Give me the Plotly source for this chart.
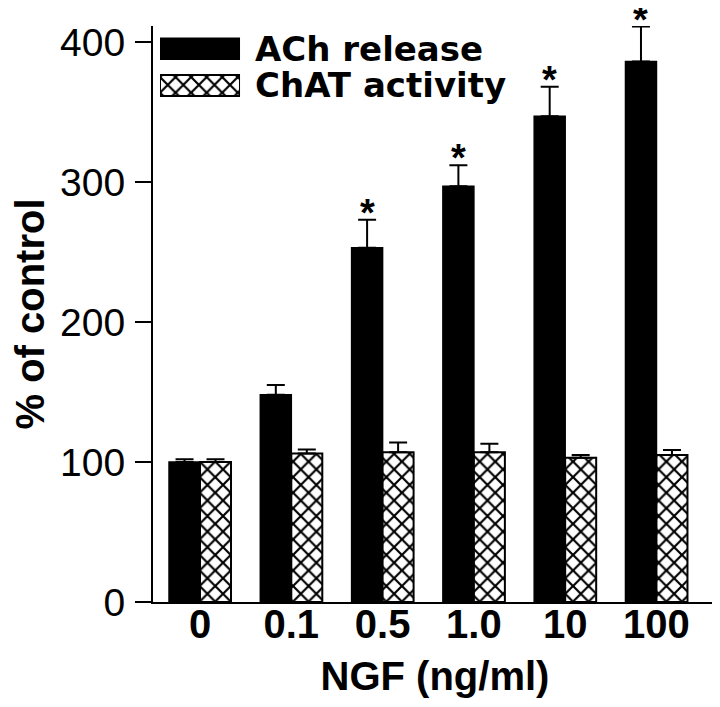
import plotly.graph_objects as go

categories = ["0", "0.1", "0.5", "1.0", "10", "100"]
ach_release = [100, 148, 253, 297, 347, 386]
ach_err = [2, 7, 20, 15, 21, 25]
chat_activity = [100, 106, 107, 107, 103, 105]
chat_err = [2, 3, 7, 6, 2, 3.5]
significance = ["", "", "*", "*", "*", "*"]
series_names = ["ACh release", "ChAT activity"]
y_ticks = [0, 100, 200, 300, 400]

ARIAL = "Liberation Sans, Arial, sans-serif"
HATCH = dict(shape="x", fgcolor="black", bgcolor="white",
             size=11, solidity=0.36, fillmode="replace")

fig = go.Figure()

fig.add_trace(go.Bar(
    x=categories, y=ach_release, name=series_names[0],
    marker=dict(color="black", line=dict(color="black", width=1.5)),
    error_y=dict(type="data", symmetric=False, array=ach_err,
                 arrayminus=[0] * len(ach_err), color="black",
                 thickness=2, width=9),
    showlegend=False,
))
fig.add_trace(go.Bar(
    x=categories, y=chat_activity, name=series_names[1],
    marker=dict(color="white", line=dict(color="black", width=2),
                pattern=HATCH),
    error_y=dict(type="data", symmetric=False, array=chat_err,
                 arrayminus=[0] * len(chat_err), color="black",
                 thickness=2, width=9),
    showlegend=False,
))

# legend swatches drawn as a small horizontal bar inset
fig.add_trace(go.Bar(
    y=[series_names[0]], x=[1], orientation="h", xaxis="x2", yaxis="y2",
    width=0.572, offsetgroup="leg",
    marker=dict(color="black", line=dict(color="black", width=1.5)),
    showlegend=False, hoverinfo="skip",
))
fig.add_trace(go.Bar(
    y=[series_names[1]], x=[1], orientation="h", xaxis="x2", yaxis="y2",
    width=0.572, offsetgroup="leg",
    marker=dict(color="white", line=dict(color="black", width=2), pattern=HATCH),
    showlegend=False, hoverinfo="skip",
))

# significance stars above the ACh bars
for i, (v, e, s) in enumerate(zip(ach_release, ach_err, significance)):
    if s:
        fig.add_annotation(x=i, y=v + e, text=s, showarrow=False,
                           xref="x", yref="y", yanchor="middle",
                           xshift=-15.5, yshift=7,
                           font=dict(family=ARIAL, size=38, color="black", weight="bold"))

# page body has an 8px margin, so the figure is 8px smaller and offset
fig.update_layout(
    width=712, height=699,
    margin=dict(l=145, r=3, t=18, b=105),
    paper_bgcolor="white", plot_bgcolor="white",
    barmode="group", bargap=0.321, bargroupgap=0,
    font=dict(family=ARIAL, color="black"),
    xaxis=dict(
        range=[-0.515, 5.663], showline=True, linecolor="black", linewidth=2,
        ticks="", showgrid=False, zeroline=False, automargin=False,
        ticklabelstandoff=-14,
        tickfont=dict(family=ARIAL, size=40, color="black", weight="bold"),
        title=dict(text="NGF (ng/ml)", standoff=17,
                   font=dict(family=ARIAL, size=40, color="black", weight="bold")),
    ),
    yaxis=dict(
        range=[0, 411.4], tickvals=y_ticks, showline=True, linecolor="black",
        linewidth=2, ticks="outside", ticklen=16, tickwidth=2, tickcolor="black",
        showgrid=False, zeroline=False, automargin=False, ticklabelstandoff=2,
        tickfont=dict(family=ARIAL, size=39, color="black"),
        title=dict(text="% of control", standoff=16,
                   font=dict(family=ARIAL, size=40, color="black", weight="bold")),
    ),
    xaxis2=dict(domain=[0.0124, 0.1543], range=[0, 1], visible=False,
                anchor="y2", fixedrange=True, automargin=False),
    yaxis2=dict(domain=[0.8648, 0.9923], range=[1.5, -0.5], anchor="x2",
                side="right", ticks="", showline=False, showgrid=False,
                zeroline=False, ticklabelstandoff=14, automargin=False,
                tickmode="array", tickvals=series_names,
                tickfont=dict(family="DejaVu Sans, sans-serif", size=34,
                              color="black", weight="bold")),
)

fig.write_html("out.html")
